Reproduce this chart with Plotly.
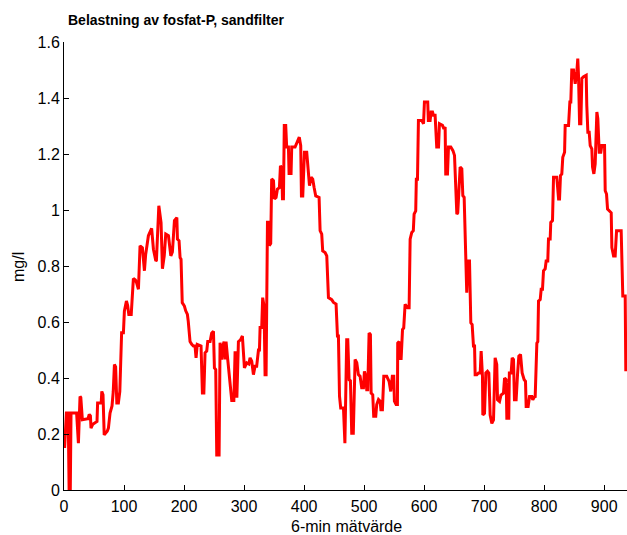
import plotly.graph_objects as go

title_text = "Belastning av fosfat-P, sandfilter"
x_label = "6-min mätvärde"
y_label = "mg/l"
x_ticks = [0, 100, 200, 300, 400, 500, 600, 700, 800, 900]
y_ticks = [0, 0.2, 0.4, 0.6, 0.8, 1.0, 1.2, 1.4, 1.6]
y_tick_text = ["0", "0.2", "0.4", "0.6", "0.8", "1", "1.2", "1.4", "1.6"]

x_vals = [
    1, 4, 7, 8.5, 10.5, 11.7, 21, 22.8, 24, 26.7, 28, 30.6, 40, 42, 44, 45, 48, 55, 56, 62,
    63, 65, 67, 72, 74, 76.7, 80, 82, 84, 86, 88, 90.6, 93, 96, 99, 100.6, 104, 106, 108, 112,
    115.6, 119, 121, 124, 126.7, 130.6, 134, 136, 140.6, 146, 149, 153,
    154, 158, 161.7, 164, 167, 169.5, 174, 178, 180.6, 184, 188, 189, 191.7, 193.4, 195, 197,
    200.6, 202.8, 205.6, 207, 208.4, 210, 212.8, 215.6, 218.3, 220, 222, 228.3, 230.6, 233,
    235, 237.8, 239.5, 243.4, 246, 249, 250.6, 252.8, 254.5, 258.4, 260, 262.8, 264.5, 266.7,
    268.4, 270, 272.8, 276.7, 279.5, 283, 285, 286.7, 288, 290.6, 294, 297.2, 300.6, 304.5,
    308,
    310, 312.8, 315.6, 318.3, 321, 324, 325.6, 326.7, 329.4, 331, 333.3, 335, 336.7, 339, 341,
    342, 344.4, 346, 349, 350.6, 353.3, 355.6, 358.9, 360.6, 362.8, 364, 365.6, 367, 369.4,
    371, 373.9, 375, 378.3, 379.4, 385, 387.8, 392, 394.4, 395.6, 397.8, 400.6, 404.4, 406.7,
    409, 411.7, 414.4, 416.7, 419.4, 425, 426.7, 429.4, 431, 435, 437.8, 440.6, 446, 449,
    453.3, 455.6, 457.2, 459, 461, 465.6,
    468, 471, 472.8, 475, 477.2, 479.4, 482, 485, 487.8, 490.5, 493.3, 496, 498.9, 500.5,
    502.7, 504.4, 506, 508.3, 510.5, 511.7, 514.4, 516, 519.4, 521, 524, 526.7, 528, 530.5,
    532.8, 537.7, 541.6, 544.4, 547, 549.4, 550.5, 553.3, 555.5, 556, 558.3, 560, 561.7, 564,
    566, 568.3, 572.7, 575, 576.7, 579.4, 582, 583.3, 586, 587, 588.9, 590.5, 596, 599, 600.5,
    606, 607, 610, 611.6, 614, 615.5, 618.3, 621, 624, 625.5, 630.6, 633,
    635, 636, 638.9, 640.6, 644.4, 648, 650.6, 652.2, 654.5, 656, 657.8, 660, 662.8, 664.5,
    666.7, 668.3, 670, 671, 672.8, 675.6, 677.8, 680, 682.2, 684, 685, 687.8, 690.6, 693.4,
    695, 697.2, 697.8, 700.6, 702.8, 705.6, 707.8, 710, 712.8, 715.6, 718.3, 721, 722.3,
    725.6, 728, 732.2, 734, 736.7, 737.8, 741, 742, 745, 746.7, 748.9, 750.5, 753.3, 755.6,
    757.8, 760.6, 763.3, 766.7, 768.9, 770, 773.3, 775.6, 779.4, 781, 784,
    785, 787.8, 789.4, 790.6, 793.4, 795, 797.2, 798.9, 801.7, 803.3, 806, 807.2, 810, 811,
    813.9, 815.6, 821, 824, 825.6, 827.2, 829.4, 831, 834, 835, 840.6, 842.8, 844.4, 846,
    848.9, 851.7, 854.4, 856, 857.2, 859, 861.1, 862.8, 865.6, 868.3, 870, 871, 872.8, 875,
    876.7, 879.4, 880.6, 882.8, 885, 887.8, 889.4, 891.7, 894.4, 896, 900.6, 901.7, 903.9,
    905.6, 908.3, 911.7, 912.8, 915.6, 918.3, 920.6, 928.3, 929.4, 931, 935, 936,
]

y_vals = [
    0.15, 0.275, 0.275, 0.005, 0.005, 0.275, 0.275, 0.167, 0.167, 0.334, 0.33, 0.251, 0.255,
    0.27, 0.265, 0.221, 0.235, 0.245, 0.311, 0.311,
    0.352, 0.34, 0.197, 0.21, 0.221, 0.275, 0.3, 0.35, 0.448, 0.44, 0.311, 0.311, 0.352,
    0.562, 0.562, 0.639, 0.675, 0.66, 0.627, 0.627,
    0.755, 0.75, 0.74, 0.717, 0.872, 0.865, 0.783, 0.84, 0.908, 0.934, 0.86, 0.818,
    0.82, 1.015, 0.955, 0.79, 0.836, 0.914, 0.908, 0.836, 0.85, 0.962, 0.973, 0.896, 0.89,
    0.83, 0.824, 0.669,
    0.657, 0.64, 0.627, 0.603, 0.55, 0.53, 0.52, 0.514, 0.514, 0.472, 0.52, 0.514, 0.346,
    0.346,
    0.49, 0.496, 0.53, 0.53, 0.56, 0.567, 0.436, 0.43, 0.125, 0.125, 0.526, 0.466, 0.514,
    0.53,
    0.466, 0.53, 0.466, 0.364, 0.32, 0.32, 0.49, 0.49, 0.33, 0.53, 0.536, 0.55, 0.436, 0.454,
    0.45,
    0.472, 0.46, 0.412, 0.442, 0.442, 0.5, 0.5, 0.58, 0.58, 0.687, 0.657, 0.412, 0.412,
    0.956, 0.956,
    0.873, 0.88, 1.111, 1.105, 1.04, 1.045, 1.075, 1.08, 1.158, 1.15, 1.04, 1.04, 1.302,
    1.302,
    1.225, 1.225, 1.13, 1.13, 1.225, 1.225, 1.237, 1.26, 1.23, 1.05, 1.05, 1.206, 1.206,
    1.147,
    1.087, 1.117, 1.11, 1.08, 1.05, 1.045, 0.926, 0.914, 0.854, 0.848, 0.836, 0.687, 0.68,
    0.67,
    0.664, 0.55, 0.55, 0.335, 0.293, 0.293,
    0.167, 0.537, 0.537, 0.394, 0.39, 0.203, 0.203, 0.466, 0.455, 0.412, 0.406, 0.365, 0.365,
    0.424,
    0.406, 0.358, 0.358, 0.561, 0.555, 0.346, 0.34, 0.263, 0.263, 0.305, 0.323, 0.317, 0.287,
    0.287,
    0.406, 0.406, 0.388, 0.352, 0.406, 0.406, 0.317, 0.305, 0.305, 0.525, 0.53, 0.47, 0.47,
    0.573,
    0.579, 0.663, 0.651, 0.651, 0.896, 0.92, 0.926, 0.985, 0.997, 1.11, 1.11, 1.32, 1.32,
    1.308, 1.386,
    1.386, 1.32, 1.32, 1.35, 1.35, 1.338, 1.338, 1.225, 1.225, 1.308, 1.302, 1.29,
    1.296, 1.129, 1.129, 1.225, 1.225, 1.212, 1.195, 1.075, 0.985, 0.99, 1.087, 1.153, 1.147,
    1.051,
    1.045, 0.896, 0.705, 0.705, 0.818, 0.818, 0.597, 0.591, 0.514, 0.514, 0.412, 0.412, 0.418,
    0.418,
    0.496, 0.406, 0.268, 0.274, 0.418, 0.424, 0.418, 0.268, 0.238, 0.25, 0.472, 0.448, 0.322,
    0.316, 0.339, 0.346, 0.4, 0.394, 0.256, 0.256, 0.418, 0.418, 0.472, 0.466, 0.322, 0.322,
    0.412,
    0.478, 0.484, 0.418, 0.394, 0.388, 0.298, 0.298, 0.334, 0.334, 0.322, 0.334,
    0.33, 0.524, 0.53, 0.675, 0.68, 0.717, 0.717, 0.783, 0.79, 0.818, 0.818, 0.896, 0.896,
    0.956,
    0.962, 1.117, 1.117, 1.039, 1.039, 1.123, 1.129, 1.188, 1.206, 1.302, 1.302, 1.386, 1.386,
    1.5,
    1.5, 1.451, 1.493, 1.541, 1.481, 1.308, 1.308, 1.47, 1.476, 1.481, 1.481, 1.374, 1.278,
    1.278,
    1.23, 1.218, 1.153, 1.129, 1.165, 1.35, 1.326, 1.206, 1.206, 1.23, 1.23, 1.069, 1.057,
    1.003, 0.997, 0.99, 0.866, 0.836, 0.836, 0.926, 0.926, 0.776, 0.693, 0.693, 0.424,
]

FONT = "Liberation Sans, Arial, Helvetica, sans-serif"

fig = go.Figure()
fig.add_trace(go.Scatter(
    x=x_vals, y=y_vals, mode="lines",
    line=dict(color="#ff0000", width=3),
    showlegend=False,
))

W, H = 627, 535
ML, MR, MT, MB = 64, 0, 42, 45

fig.update_layout(
    width=W, height=H,
    margin=dict(l=ML, r=MR, t=MT, b=MB, pad=0),
    paper_bgcolor="white", plot_bgcolor="white",
    font=dict(family=FONT, size=14, color="black"),
    showlegend=False,
)
fig.update_xaxes(
    range=[0, 938], tickvals=x_ticks, ticktext=[str(t) for t in x_ticks],
    showline=True, linecolor="black", linewidth=1, mirror=False,
    ticks="inside", ticklen=5, tickcolor="black", tickwidth=1,
    showgrid=False, zeroline=False, tickfont=dict(size=16, family=FONT),
    ticklabelstandoff=2,
)
fig.update_yaxes(
    range=[0, 1.6], tickvals=y_ticks, ticktext=y_tick_text,
    showline=True, linecolor="black", linewidth=1, mirror=False,
    ticks="inside", ticklen=5, tickcolor="black", tickwidth=1,
    showgrid=False, zeroline=False, tickfont=dict(size=16, family=FONT),
)

def px_x(p):
    return (p - ML) / (W - ML - MR)

def px_y(p):
    return (H - MB - p) / (H - MT - MB)

fig.add_annotation(text="<b>" + title_text + "</b>", xref="paper", yref="paper",
                   x=px_x(66), y=px_y(20), xanchor="left", yanchor="middle",
                   showarrow=False, font=dict(size=14, family=FONT))
fig.add_annotation(text=x_label, xref="paper", yref="paper",
                   x=px_x(347), y=px_y(526), xanchor="center", yanchor="middle",
                   showarrow=False, font=dict(size=16, family=FONT))
fig.add_annotation(text=y_label, xref="paper", yref="paper",
                   x=px_x(18), y=px_y(267), xanchor="center", yanchor="middle",
                   textangle=-90, showarrow=False, font=dict(size=16, family=FONT))

fig.write_html("out.html")
